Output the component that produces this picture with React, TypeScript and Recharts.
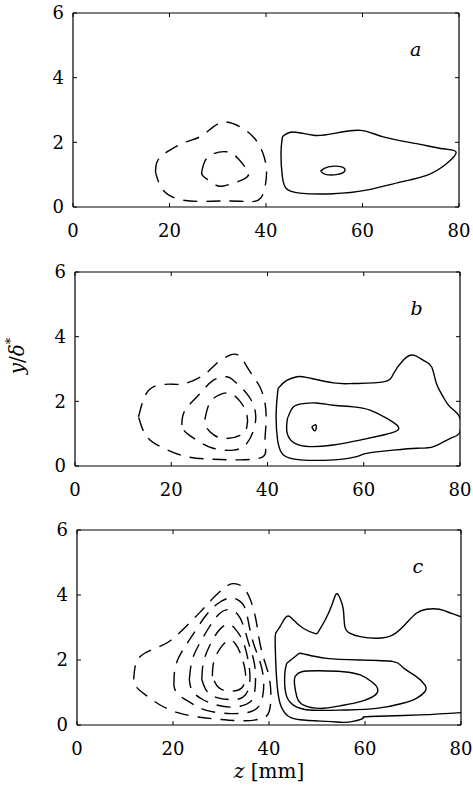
import { LineChart, Line, XAxis, YAxis, ReferenceDot, Label } from 'recharts';

type Pt = [number, number];

const X_TICKS = [0, 20, 40, 60, 80];
const Y_TICKS = [0, 2, 4, 6];
const PANEL_LETTERS = ['a', 'b', 'c'];
const LETTER_POS: Pt = [71, 4.9];
// corners of the frame, used to tie the mirrored top/right axes to data
const FRAME: Pt[] = [[0, 0], [80, 6]];

// panel a
const aNeg1: Pt[] = [[17.1, 1.08], [17.6, 1.45], [20, 1.75], [23.2, 2.0], [26.3, 2.17], [29, 2.47], [31.8, 2.63], [35.3, 2.42], [37.7, 2.11], [39.4, 1.65], [40.1, 1.13], [39.8, 0.62], [38.4, 0.21], [34.6, 0.18], [29, 0.18], [22.8, 0.21], [18.7, 0.52]];
const aNeg2: Pt[] = [[26.7, 1.09], [28, 1.55], [31.7, 1.71], [34.2, 1.5], [36.1, 1.14], [35.6, 0.88], [31.2, 0.65], [29.2, 0.72], [27, 0.95]];
const aPos1: Pt[] = [[43.4, 2.17], [45.6, 2.32], [49.8, 2.22], [53.9, 2.27], [59.5, 2.37], [64.3, 2.17], [71.2, 1.96], [76.7, 1.8], [79.4, 1.7], [77.4, 1.34], [73.3, 0.98], [67.8, 0.77], [60.8, 0.52], [53.9, 0.41], [47, 0.43], [44.2, 0.57], [43.4, 0.93], [43.1, 1.65]];
const aPos2: Pt[] = [[51.3, 1.11], [52.9, 1.24], [55.7, 1.24], [56.3, 1.11], [54.9, 1.01], [52.5, 1.0]];

// panel b
const bNeg1: Pt[] = [[13.2, 1.52], [14.2, 2.04], [16.3, 2.45], [20.4, 2.53], [22.9, 2.55], [26.7, 2.81], [29.4, 3.17], [32.2, 3.43], [34.3, 3.38], [36.4, 2.91], [38.4, 2.45], [39.5, 1.93], [39.7, 1.32], [39.5, 0.7], [39.1, 0.29], [34.3, 0.19], [28.7, 0.21], [23.2, 0.29], [18.4, 0.55], [14.9, 0.91]];
const bNeg2: Pt[] = [[22.2, 1.27], [22.9, 1.73], [26, 2.24], [28.7, 2.65], [31.5, 2.76], [32.9, 2.65], [35.7, 2.24], [37.4, 1.73], [37.3, 1.21], [35.7, 0.7], [32.9, 0.49], [28.7, 0.55], [25.3, 0.8], [22.9, 1.06]];
const bNeg3: Pt[] = [[27, 1.45], [28, 1.95], [30, 2.2], [32.2, 2.25], [34.3, 2.0], [35.7, 1.6], [35.7, 1.2], [34.3, 0.95], [31, 0.85], [28.7, 0.98], [27.3, 1.2]];
const bPos1: Pt[] = [[42.2, 2.4], [44, 2.65], [46.1, 2.76], [48.1, 2.74], [53.7, 2.57], [57.8, 2.55], [64.1, 2.6], [66.2, 2.86], [68.2, 3.27], [70.3, 3.43], [72.4, 3.27], [74.1, 3.07], [75.1, 2.55], [76.5, 2.14], [77.9, 1.83], [79.9, 1.52], [79.9, 1.03], [77.9, 0.85], [74.5, 0.6], [71, 0.55], [66.1, 0.49], [60.6, 0.39], [58.5, 0.29], [53.7, 0.19], [46.8, 0.19], [43.3, 0.34], [42.1, 0.8], [41.8, 1.63]];
const bPos2: Pt[] = [[44.3, 1.52], [45.4, 1.83], [47.4, 1.93], [50.2, 1.95], [53.7, 1.88], [57.8, 1.83], [61.3, 1.73], [64.8, 1.47], [67.2, 1.21], [66.5, 1.06], [64.1, 0.96], [59.2, 0.8], [53.7, 0.65], [48.8, 0.6], [45.7, 0.7], [44.1, 1.01], [44.1, 1.42]];
const bPos3: Pt[] = [[49.2, 1.21], [50.1, 1.26], [49.9, 1.09]];

// panel c
const cNeg1: Pt[] = [[11.8, 1.4], [12.3, 1.9], [14, 2.2], [17, 2.4], [19.5, 2.6], [22.5, 3.0], [25.5, 3.45], [28, 3.85], [30.5, 4.2], [32.5, 4.35], [34.5, 4.25], [36, 3.9], [37.2, 3.3], [38, 2.6], [39, 2.0], [40, 1.5], [40.4, 0.9], [40, 0.4], [38.5, 0.2], [35, 0.13], [30, 0.17], [25, 0.25], [21, 0.38], [17.5, 0.6], [14.5, 0.9], [12.5, 1.15]];
const cNeg2: Pt[] = [[20.2, 1.2], [20.5, 1.8], [22, 2.3], [24, 2.75], [26.5, 3.3], [29, 3.7], [31.5, 3.9], [33.5, 3.85], [35, 3.6], [35.8, 3.1], [36.8, 2.5], [38, 2.0], [38.8, 1.5], [38.8, 1.0], [38, 0.6], [36, 0.4], [32, 0.35], [27, 0.45], [23.5, 0.7], [21, 0.95]];
const cNeg3: Pt[] = [[23.4, 1.4], [24, 2.0], [25.5, 2.5], [27.5, 3.0], [29.5, 3.4], [31.5, 3.55], [33.5, 3.4], [34.8, 3.0], [35.8, 2.5], [36.8, 2.0], [37.2, 1.5], [37, 1.0], [36, 0.7], [33, 0.55], [29, 0.62], [26, 0.8], [24, 1.05]];
const cNeg4: Pt[] = [[26, 1.4], [26.3, 1.9], [27.5, 2.4], [29.5, 2.9], [31.5, 3.1], [33, 2.95], [34.5, 2.6], [35.5, 2.1], [36, 1.6], [35.8, 1.15], [34.5, 0.85], [32, 0.78], [29, 0.85], [27, 1.05]];
const cNeg5: Pt[] = [[28.2, 1.5], [28.5, 1.95], [29.8, 2.35], [31.5, 2.6], [33, 2.5], [34.3, 2.1], [35.1, 1.6], [34.8, 1.25], [33.5, 1.07], [31, 1.05], [29.2, 1.2]];
const cPos1: Pt[] = [[80, 3.33], [77.9, 3.44], [75.5, 3.56], [72.8, 3.56], [70.7, 3.44], [68.6, 3.13], [65.8, 2.77], [62.4, 2.67], [59, 2.72], [56.9, 2.82], [55.8, 3.03], [55.5, 3.54], [54.8, 3.9], [54, 4.03], [53.1, 3.69], [51.7, 3.23], [50.3, 2.87], [49.5, 2.82], [47.2, 2.97], [45.1, 3.23], [43.7, 3.34], [42.3, 3.03], [41.4, 2.82], [41.3, 2.41], [41.6, 1.39], [42.3, 0.67], [43.7, 0.31], [46.5, 0.16], [52, 0.11], [55.5, 0.08], [57.5, 0.11], [59.6, 0.21], [61, 0.26], [71.5, 0.31], [80, 0.38]];
const cPos2: Pt[] = [[43.7, 1.9], [45.9, 2.16], [47.2, 2.19], [52, 2.05], [59, 2.0], [65.9, 1.95], [67.9, 1.77], [70.7, 1.49], [72.5, 1.23], [72.5, 1.03], [70.7, 0.82], [67.9, 0.67], [62.4, 0.51], [55.5, 0.46], [48.5, 0.46], [45, 0.62], [43.5, 0.97], [43.3, 1.59]];
const cPos3: Pt[] = [[45.4, 1.49], [46.8, 1.64], [50.6, 1.67], [55.5, 1.64], [59, 1.54], [61.4, 1.33], [62.6, 1.13], [62.1, 0.92], [59, 0.72], [54.8, 0.59], [50.6, 0.51], [47.1, 0.62], [45.8, 0.87], [45.3, 1.28]];

const FONT = "'DejaVu Serif', serif";
const axisLineStyle = { stroke: '#000', strokeWidth: 1.2 };
const tickLineStyle = { stroke: '#000', strokeWidth: 1 };
const DASH = '14 9';
const noTick = () => <g />;

// tick label drawn by hand so the serif face is sure to be used
const SerifTick = ({ x, y, payload, textAnchor, verticalAnchor }: any) => (
  <text
    x={x}
    y={y}
    dy={verticalAnchor === 'start' ? '0.71em' : '0.36em'}
    textAnchor={textAnchor}
    fontFamily={FONT}
    fontSize={18}
    fill="#000"
  >
    {payload.value}
  </text>
);

const closed = (pts: Pt[]) => [...pts, pts[0]].map(([x, y]) => ({ x, y }));
const opened = (pts: Pt[]) => pts.map(([x, y]) => ({ x, y }));

const renderXLabel = ({ viewBox }: any) => (
  <text x={viewBox.x + viewBox.width / 2} y={viewBox.y + 53} textAnchor="middle" fontFamily={FONT} fontSize={20} fill="#000">
    <tspan fontStyle="italic">z</tspan> [mm]
  </text>
);

const renderYLabel = ({ viewBox }: any) => {
  const x = viewBox.x + 17;
  const y = viewBox.y + viewBox.height / 2 - 13;
  return (
    <text x={x} y={y} transform={`rotate(-90 ${x} ${y})`} textAnchor="middle" dominantBaseline="central" fontFamily={FONT} fontSize={20} fill="#000">
      <tspan fontStyle="italic">y</tspan>/<tspan fontStyle="italic">δ</tspan>
      <tspan dy={-7} fontSize={13}>*</tspan>
    </text>
  );
};

interface PanelProps {
  top: number;
  height: number;
  margin: { top: number; right: number; bottom: number; left: number };
  yw: number;
  xh: number;
  dashed: Pt[][];
  solid: Pt[][];
  openSolid?: Pt[][];
  letter: string;
  xLabel?: boolean;
  yLabel?: boolean;
}

function Panel({ top, height, margin, yw, xh, dashed, solid, openSolid = [], letter, xLabel, yLabel }: PanelProps) {
  return (
    <div style={{ position: 'absolute', left: 0, top, width: 473, height }}>
      <LineChart width={473} height={height} margin={margin}>
        <XAxis
          dataKey="x"
          type="number"
          domain={[0, 80]}
          ticks={X_TICKS}
          interval={0}
          allowDataOverflow
          height={xh}
          tickSize={-4}
          tickMargin={21}
          tick={SerifTick}
          axisLine={axisLineStyle}
          tickLine={tickLineStyle}
        >
          {xLabel && <Label content={renderXLabel} />}
        </XAxis>
        <XAxis
          xAxisId="top"
          dataKey="x"
          orientation="top"
          type="number"
          domain={[0, 80]}
          ticks={X_TICKS}
          interval={0}
          allowDataOverflow
          height={1}
          tickSize={-4}
          tick={noTick}
          axisLine={axisLineStyle}
          tickLine={tickLineStyle}
        />
        <YAxis
          type="number"
          domain={[0, 6]}
          ticks={Y_TICKS}
          interval={0}
          allowDataOverflow
          width={yw}
          tickSize={-4}
          tickMargin={13}
          tick={SerifTick}
          axisLine={axisLineStyle}
          tickLine={tickLineStyle}
        >
          {yLabel && <Label content={renderYLabel} />}
        </YAxis>
        <YAxis
          yAxisId="right"
          orientation="right"
          type="number"
          domain={[0, 6]}
          ticks={Y_TICKS}
          interval={0}
          allowDataOverflow
          width={1}
          tickSize={-4}
          tick={noTick}
          axisLine={axisLineStyle}
          tickLine={tickLineStyle}
        />
        <Line
          xAxisId="top"
          yAxisId="right"
          data={opened(FRAME)}
          dataKey="y"
          stroke="none"
          dot={false}
          activeDot={false}
          isAnimationActive={false}
        />
        {dashed.map((c, i) => (
          <Line
            key={`neg-${i}`}
            data={closed(c)}
            dataKey="y"
            type="natural"
            stroke="#000"
            strokeWidth={1.4}
            strokeDasharray={DASH}
            dot={false}
            activeDot={false}
            isAnimationActive={false}
          />
        ))}
        {solid.map((c, i) => (
          <Line
            key={`pos-${i}`}
            data={closed(c)}
            dataKey="y"
            type="natural"
            stroke="#000"
            strokeWidth={1.4}
            dot={false}
            activeDot={false}
            isAnimationActive={false}
          />
        ))}
        {openSolid.map((c, i) => (
          <Line
            key={`open-${i}`}
            data={opened(c)}
            dataKey="y"
            type="natural"
            stroke="#000"
            strokeWidth={1.4}
            dot={false}
            activeDot={false}
            isAnimationActive={false}
          />
        ))}
        <ReferenceDot
          x={LETTER_POS[0]}
          y={LETTER_POS[1]}
          r={0}
          shape={(p: any) => (
            <text x={p.cx} y={p.cy} textAnchor="middle" dominantBaseline="central" fontFamily={FONT} fontStyle="italic" fontSize={19} fill="#000">
              {letter}
            </text>
          )}
        />
      </LineChart>
    </div>
  );
}

export default function App() {
  return (
    <div style={{ position: 'absolute', left: 0, top: 0, width: 473, height: 787, background: '#fff' }}>
      <Panel
        top={0}
        height={240}
        margin={{ top: 12, right: 13, bottom: 3, left: 0 }}
        yw={73}
        xh={30}
        dashed={[aNeg1, aNeg2]}
        solid={[aPos1, aPos2]}
        letter={PANEL_LETTERS[0]}
      />
      <Panel
        top={240}
        height={260}
        margin={{ top: 31, right: 12, bottom: 4, left: 0 }}
        yw={75}
        xh={30}
        dashed={[bNeg1, bNeg2, bNeg3]}
        solid={[bPos1, bPos2, bPos3]}
        letter={PANEL_LETTERS[1]}
        yLabel
      />
      <Panel
        top={500}
        height={287}
        margin={{ top: 29, right: 11, bottom: 2, left: 0 }}
        yw={77}
        xh={60}
        dashed={[cNeg1, cNeg2, cNeg3, cNeg4, cNeg5]}
        solid={[cPos2, cPos3]}
        openSolid={[cPos1]}
        letter={PANEL_LETTERS[2]}
        xLabel
      />
    </div>
  );
}
